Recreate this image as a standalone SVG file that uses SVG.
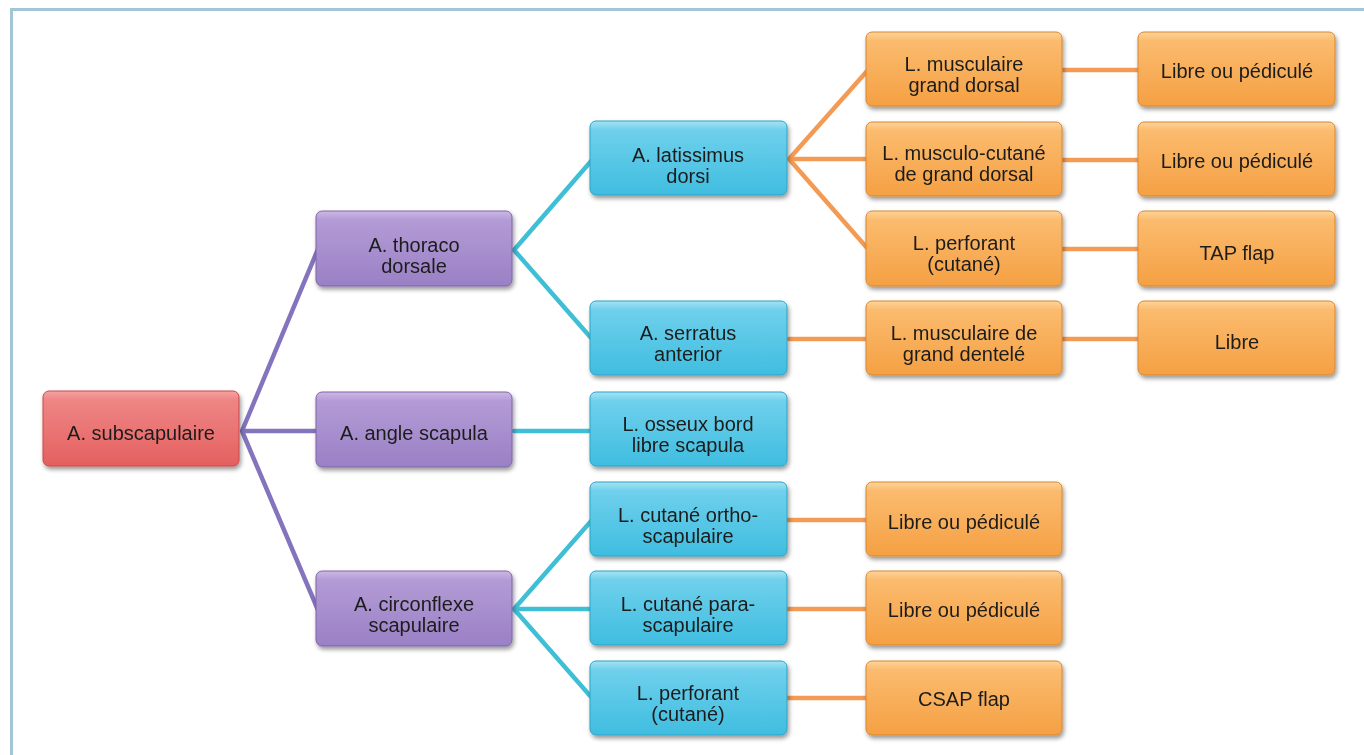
<svg xmlns="http://www.w3.org/2000/svg" width="1364" height="755" viewBox="0 0 1364 755">
<style>
.t{font-family:"Liberation Sans",Arial,sans-serif;font-size:20px;fill:#1d1d1b;text-anchor:middle}
.box{filter:url(#sh)}
.red{fill:url(#gRed);stroke:#c94848;stroke-width:1}
.pur{fill:url(#gPur);stroke:#7d65a8;stroke-width:1}
.cya{fill:url(#gCya);stroke:#2aa3c4;stroke-width:1}
.ora{fill:url(#gOra);stroke:#d9862f;stroke-width:1}
.lp{stroke:#8473bd;stroke-width:4.5;fill:none;stroke-linecap:round}
.lc{stroke:#3fbfd6;stroke-width:4.5;fill:none;stroke-linecap:round}
.lo{stroke:#f39b55;stroke-width:4.5;fill:none;stroke-linecap:round}
</style>
<defs>
<filter id="sh" x="-10%" y="-15%" width="125%" height="140%">
<feDropShadow dx="1.5" dy="3" stdDeviation="2" flood-color="#000" flood-opacity="0.4"/>
</filter>
<linearGradient id="gRed" x1="0" y1="0" x2="0" y2="1">
<stop offset="0" stop-color="#f5a2a2"/><stop offset="0.12" stop-color="#ef8585"/><stop offset="1" stop-color="#e4605f"/>
</linearGradient>
<linearGradient id="gPur" x1="0" y1="0" x2="0" y2="1">
<stop offset="0" stop-color="#cdb8e4"/><stop offset="0.12" stop-color="#b39bd6"/><stop offset="1" stop-color="#9a80c5"/>
</linearGradient>
<linearGradient id="gCya" x1="0" y1="0" x2="0" y2="1">
<stop offset="0" stop-color="#a6e3f3"/><stop offset="0.12" stop-color="#6fd0ec"/><stop offset="1" stop-color="#3fbde0"/>
</linearGradient>
<linearGradient id="gOra" x1="0" y1="0" x2="0" y2="1">
<stop offset="0" stop-color="#fdd49a"/><stop offset="0.12" stop-color="#fbbb6e"/><stop offset="1" stop-color="#f5a043"/>
</linearGradient>
</defs>
<rect x="0" y="0" width="1364" height="755" fill="#ffffff"/>
<path d="M11.5 755 V9.5 H1364" fill="none" stroke="#a3c5d8" stroke-width="3"/>

<g id="connectors">
<path class="lp" d="M242 431 L318 249 M242 431 L318 431 M242 431 L318 610"/>
<path class="lc" d="M514 250 L592 160 M514 250 L592 339 M514 431 L592 431"/>
<path class="lc" d="M514 609 L592 520 M514 609 L592 609 M514 609 L592 698"/>
<path class="lo" d="M789 159 L868 70 M789 159 L868 159 M789 159 L868 249"/>
<path class="lo" d="M789 339 L868 339"/>
<path class="lo" d="M1062 70 L1140 70 M1062 160 L1140 160 M1062 249 L1140 249 M1062 339 L1140 339"/>
<path class="lo" d="M787 520 L868 520 M787 609 L868 609 M787 698 L868 698"/>
</g>

<g id="n-subscapulaire" class="box"><rect class="red" x="43" y="391" width="196" height="75" rx="6"/><text class="t" x="141" y="440">A. subscapulaire</text></g>

<g id="n-thoraco" class="box"><rect class="pur" x="316" y="211" width="196" height="75" rx="6"/><text class="t" x="414" y="252">A. thoraco</text><text class="t" x="414" y="273">dorsale</text></g>
<g id="n-angle" class="box"><rect class="pur" x="316" y="392" width="196" height="75" rx="6"/><text class="t" x="414" y="440">A. angle scapula</text></g>
<g id="n-circonflexe" class="box"><rect class="pur" x="316" y="571" width="196" height="75" rx="6"/><text class="t" x="414" y="611">A. circonflexe</text><text class="t" x="414" y="632">scapulaire</text></g>

<g id="n-latissimus" class="box"><rect class="cya" x="590" y="121" width="197" height="74" rx="6"/><text class="t" x="688" y="162">A. latissimus</text><text class="t" x="688" y="183">dorsi</text></g>
<g id="n-serratus" class="box"><rect class="cya" x="590" y="301" width="197" height="74" rx="6"/><text class="t" x="688" y="340">A. serratus</text><text class="t" x="688" y="361">anterior</text></g>
<g id="n-osseux" class="box"><rect class="cya" x="590" y="392" width="197" height="74" rx="6"/><text class="t" x="688" y="431">L. osseux bord</text><text class="t" x="688" y="452">libre scapula</text></g>
<g id="n-ortho" class="box"><rect class="cya" x="590" y="482" width="197" height="74" rx="6"/><text class="t" x="688" y="522">L. cutané ortho-</text><text class="t" x="688" y="543">scapulaire</text></g>
<g id="n-para" class="box"><rect class="cya" x="590" y="571" width="197" height="74" rx="6"/><text class="t" x="688" y="611">L. cutané para-</text><text class="t" x="688" y="632">scapulaire</text></g>
<g id="n-perforant2" class="box"><rect class="cya" x="590" y="661" width="197" height="74" rx="6"/><text class="t" x="688" y="700">L. perforant</text><text class="t" x="688" y="721">(cutané)</text></g>

<g id="n-muscgd" class="box"><rect class="ora" x="866" y="32" width="196" height="74" rx="6"/><text class="t" x="964" y="71">L. musculaire</text><text class="t" x="964" y="92">grand dorsal</text></g>
<g id="n-muscutgd" class="box"><rect class="ora" x="866" y="122" width="196" height="74" rx="6"/><text class="t" x="964" y="160">L. musculo-cutané</text><text class="t" x="964" y="181">de grand dorsal</text></g>
<g id="n-perforant1" class="box"><rect class="ora" x="866" y="211" width="196" height="75" rx="6"/><text class="t" x="964" y="250">L. perforant</text><text class="t" x="964" y="271">(cutané)</text></g>
<g id="n-muscdent" class="box"><rect class="ora" x="866" y="301" width="196" height="74" rx="6"/><text class="t" x="964" y="340">L. musculaire de</text><text class="t" x="964" y="361">grand dentelé</text></g>
<g id="n-lop1" class="box"><rect class="ora" x="866" y="482" width="196" height="74" rx="6"/><text class="t" x="964" y="529">Libre ou pédiculé</text></g>
<g id="n-lop2" class="box"><rect class="ora" x="866" y="571" width="196" height="74" rx="6"/><text class="t" x="964" y="617">Libre ou pédiculé</text></g>
<g id="n-csap" class="box"><rect class="ora" x="866" y="661" width="196" height="74" rx="6"/><text class="t" x="964" y="706">CSAP flap</text></g>

<g id="n-r1" class="box"><rect class="ora" x="1138" y="32" width="197" height="74" rx="6"/><text class="t" x="1237" y="78">Libre ou pédiculé</text></g>
<g id="n-r2" class="box"><rect class="ora" x="1138" y="122" width="197" height="74" rx="6"/><text class="t" x="1237" y="168">Libre ou pédiculé</text></g>
<g id="n-r3" class="box"><rect class="ora" x="1138" y="211" width="197" height="75" rx="6"/><text class="t" x="1237" y="260">TAP flap</text></g>
<g id="n-r4" class="box"><rect class="ora" x="1138" y="301" width="197" height="74" rx="6"/><text class="t" x="1237" y="349">Libre</text></g>
</svg>
